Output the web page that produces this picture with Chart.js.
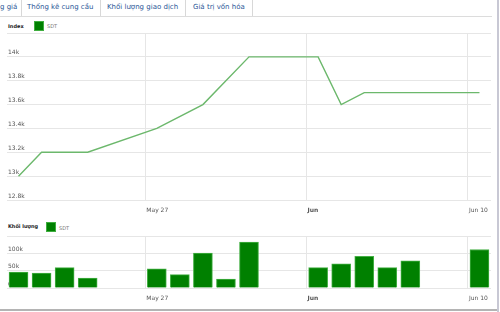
<!DOCTYPE html>
<html>
<head>
<meta charset="utf-8">
<script src="https://cdn.jsdelivr.net/npm/chart.js@4.4.0/dist/chart.umd.min.js"></script>
<style>
  html, body { margin: 0; padding: 0; background: #fff; }
  body { width: 500px; height: 312px; position: relative; overflow: hidden; font-family: "DejaVu Sans", Verdana, sans-serif; }
  .tab { position: absolute; top: 2px; font-size: 7px; color: #2b5797; white-space: nowrap; line-height: 10px; }
  .sep { position: absolute; top: 0; width: 1px; height: 16px; background: #d8d8d8; }
  .tabline { position: absolute; left: 0; top: 16px; width: 492px; height: 1px; background: #dcdcdc; }
  .rborder { position: absolute; left: 497px; top: 0; width: 2px; height: 312px; background: #c8c8d4; }
  .bborder { position: absolute; left: 0; top: 309px; width: 497px; height: 2px; background: #b4b4b4; }
  .lgtitle { position: absolute; font-size: 5px; font-weight: bold; color: #222; line-height: 6px; }
  .lgbox { position: absolute; width: 8px; height: 8px; background: #008000; border: 1px solid #3fae3f; }
  .lgtext { position: absolute; font-size: 5px; color: #777; line-height: 6px; }
  canvas { position: absolute; left: 0; }
</style>
</head>
<body>
<div class="tab" style="left:0px">g giá</div>
<div class="sep" style="left:21px"></div>
<div class="tab" style="left:27px">Thống kê cung cầu</div>
<div class="sep" style="left:100px"></div>
<div class="tab" style="left:107px">Khối lượng giao dịch</div>
<div class="sep" style="left:185px"></div>
<div class="tab" style="left:193px">Giá trị vốn hóa</div>
<div class="sep" style="left:252px"></div>
<div class="tabline"></div>

<div class="lgtitle" style="left:8px;top:23px">Index</div>
<div class="lgbox" style="left:34px;top:21px"></div>
<div class="lgtext" style="left:47px;top:23px">SDT</div>

<div class="lgtitle" style="left:8px;top:223px">Khối lượng</div>
<div class="lgbox" style="left:46px;top:222px"></div>
<div class="lgtext" style="left:59px;top:225px">SDT</div>

<canvas id="c1" width="500" height="220" style="top:0px;width:500px;height:220px"></canvas>
<canvas id="c2" width="500" height="88" style="top:220px;width:500px;height:88px"></canvas>
<div class="rborder"></div>
<div class="bborder"></div>

<script>
// Day offsets counted from 21 May 2013 (trading days only carry data)
const priceDays   = [0, 1, 3, 6, 8, 10, 13, 14, 15, 20];
const priceValues = [13000, 13200, 13200, 13400, 13600, 14000, 14000, 13600, 13700, 13700];

const volumeDays   = [0, 1, 2, 3, 6, 7, 8, 9, 10, 13, 14, 15, 16, 17, 20];
const volumeValues = [45600, 42700, 58700, 28500, 55000, 38700, 100500, 25600, 132800, 58700, 70000, 91000, 58700, 78600, 111000];

const xTickDays   = [5.5, 12.5, 19.5];
const xTickLabels = ['May 27', 'Jun', 'Jun 10'];

const priceTickValues = [12800, 13000, 13200, 13400, 13600, 13800, 14000, 14200];
const priceTickLabels = ['12.8k', '13k', '13.2k', '13.4k', '13.6k', '13.8k', '14k', ''];

const volumeTickValues = [0, 50000, 100000, 150000];
const volumeTickLabels = ['0', '50k', '100k', ''];

const gridColor = '#e6e6e6';
const tickFont = { family: 'DejaVu Sans', size: 6 };

function xScale() {
  return {
    type: 'linear',
    min: -0.5,
    max: 20.5,
    offset: false,
    afterBuildTicks: s => { s.ticks = xTickDays.map(v => ({ value: v })); },
    afterFit: s => { s.height = 20; },
    grid: { color: gridColor, drawTicks: false, offset: false },
    border: { display: false },
    ticks: {
      align: 'start',
      padding: 7,
      labelOffset: 1,
      color: '#555',
      maxRotation: 0,
      autoSkip: false,
      font: ctx => ({ family: 'DejaVu Sans', size: 6, weight: (ctx.tick && ctx.tick.value === xTickDays[1]) ? 'bold' : 'normal' }),
      callback: (v) => { const i = xTickDays.indexOf(v); return i >= 0 ? xTickLabels[i] : ''; }
    }
  };
}

function yScale(min, max, vals, labels) {
  return {
    min: min, max: max,
    afterBuildTicks: s => { s.ticks = vals.map(v => ({ value: v })); },
    afterFit: s => { s.width = 0; },
    grid: { color: gridColor, drawTicks: false },
    border: { display: false },
    ticks: {
      mirror: true,
      padding: 1,
      labelOffset: -4,
      color: '#555',
      font: tickFont,
      callback: (v) => { const i = vals.indexOf(v); return i >= 0 ? labels[i] : ''; }
    }
  };
}

new Chart(document.getElementById('c1'), {
  type: 'line',
  data: {
    datasets: [{
      label: 'SDT',
      data: priceDays.map((d, i) => ({ x: d, y: priceValues[i] })),
      borderColor: '#6cb86c',
      borderWidth: 1.4,
      pointRadius: 0,
      tension: 0,
      fill: false
    }]
  },
  options: {
    responsive: false,
    animation: false,
    devicePixelRatio: 1,
    layout: { padding: { left: 7, right: 9, top: 33, bottom: 0 } },
    plugins: { legend: { display: false }, tooltip: { enabled: false } },
    scales: {
      x: xScale(),
      y: yScale(12800, 14200, priceTickValues, priceTickLabels)
    }
  }
});

new Chart(document.getElementById('c2'), {
  type: 'bar',
  data: {
    datasets: [{
      label: 'SDT',
      data: volumeDays.map((d, i) => ({ x: d, y: volumeValues[i] })),
      backgroundColor: '#008000',
      borderColor: '#45b045',
      borderWidth: 1,
      barThickness: 19
    }]
  },
  options: {
    responsive: false,
    animation: false,
    devicePixelRatio: 1,
    layout: { padding: { left: 7, right: 9, top: 16, bottom: 0 } },
    plugins: { legend: { display: false }, tooltip: { enabled: false } },
    scales: {
      x: xScale(),
      y: yScale(0, 150000, volumeTickValues, volumeTickLabels)
    }
  }
});
</script>
</body>
</html>
